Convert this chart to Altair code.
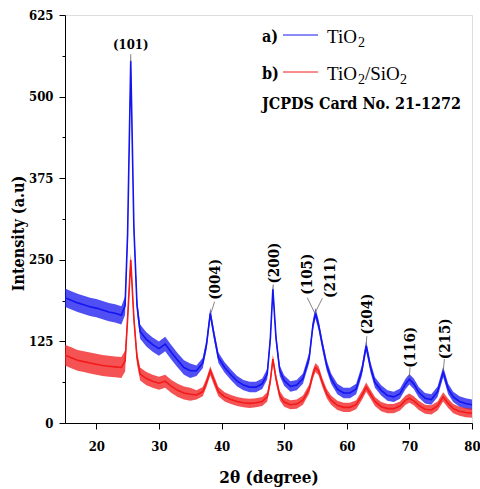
import altair as alt
import pandas as pd

# ---- data ----
two_theta = [15, 16, 17, 18, 19, 20, 21, 22, 23, 24, 24.6, 25.0, 25.5, 26.0, 26.5, 27, 28, 29, 30, 31,
             32, 33, 34, 35, 36, 37, 37.6, 38.2, 38.8, 39.5, 40.5, 41.5, 42.5, 43.5, 44.5, 45.5, 46.5,
             47.3, 47.8, 48.2, 48.7, 49.3, 50, 51, 52, 53, 54, 54.6, 55.0, 55.5, 56.1, 56.8, 57.5, 58.5,
             59.5, 60.5, 61.5, 62.4, 63.1, 63.8, 64.5, 65.5, 66.5, 67.5, 68.5, 69.4, 70.0, 70.7, 71.5,
             72.5, 73.5, 74.5, 75.4, 76.2, 77, 78, 79, 80]
tio2 = [192, 188, 184, 181, 178, 176, 173, 170, 168, 165, 180, 290, 555, 300, 180, 140, 128, 120, 114, 121,
        108, 96, 85, 80, 80, 92, 120, 168, 135, 100, 85, 74, 64, 58, 55, 55, 60,
        75, 130, 205, 130, 80, 65, 56, 58, 68, 100, 150, 168, 150, 120, 88, 68, 52,
        46, 46, 52, 80, 118, 85, 62, 50, 42, 40, 45, 60, 67, 60, 47,
        38, 36, 48, 78, 52, 40, 33, 30, 28]
tio2_sio2 = [104, 100, 96, 94, 92, 90, 88, 87, 86, 85, 95, 160, 250, 160, 100, 75, 68, 64, 61, 64,
             56, 50, 46, 44, 43, 48, 62, 80, 65, 48, 40, 36, 33, 31, 30, 31, 33,
             40, 65, 98, 68, 42, 32, 28, 29, 35, 52, 75, 85, 80, 62, 45, 35, 27,
             24, 24, 28, 42, 55, 44, 33, 25, 22, 22, 26, 35, 38, 34, 27,
             21, 20, 26, 40, 30, 22, 18, 16, 15]
# noise band half-widths (start, end, half width)
noise_tio2 = [(15, 25, 14), (25, 36, 11), (36, 81, 8)]
noise_tio2_sio2 = [(15, 25, 16), (25, 36, 10), (36, 81, 7)]

peak_labels = ["(004)", "(200)", "(105)", "(211)", "(204)", "(116)", "(215)"]
peak_label_x = [38.9, 48.3, 53.7, 57.3, 63.2, 70.1, 75.7]
peak_label_y = [220, 245, 228, 223, 167, 116, 129]
lead_x = [38.9, 48.3, 53.7, 56.1, 63.2, 70.1, 75.6, 25.5]
lead_y = [186, 212, 192, 191, 133, 85, 98, 565]
lead_x2 = [38.3, 48.2, 54.9, 54.9, 63.1, 70.0, 75.4, 25.5]
lead_y2 = [168, 205, 168, 168, 120, 70, 80, 553]

BLUE = "#1414f0"
RED = "#f21a1a"
FONT = "Liberation Serif"
BFONT = "DejaVu Serif Condensed, DejaVu Serif"


def frame(ys, table):
    rows = []
    for x, y in zip(two_theta, ys):
        hw = next(w for a, b, w in table if a <= x < b)
        rows.append({"x": x, "y": y, "lo": y - hw, "hi": y + hw})
    return pd.DataFrame(rows)


df_b = frame(tio2, noise_tio2)
df_r = frame(tio2_sio2, noise_tio2_sio2)

xs = alt.Scale(domain=[15, 80], nice=False, zero=False)
ys = alt.Scale(domain=[0, 625], nice=False)

x_axis = alt.Axis(
    values=[20, 25, 30, 35, 40, 45, 50, 55, 60, 65, 70, 75, 80],
    labelExpr="datum.value % 10 == 0 ? datum.label : ''",
    tickSize={"condition": {"test": "datum.value % 10 != 0", "value": 3}, "value": 6},
    title="2θ (degree)", grid=False, labelFont=BFONT, labelFontWeight="bold", labelFontSize=13,
    labelColor="black", labelPadding=11, titleFont=BFONT, titleFontWeight="bold", titleFontSize=17,
    titleColor="black", titlePadding=16, domainColor="black", tickColor="black", labelFlush=False,
)
y_axis = alt.Axis(
    values=[0, 62.5, 125, 187.5, 250, 312.5, 375, 437.5, 500, 562.5, 625],
    labelExpr="datum.value % 125 == 0 ? datum.label : ''",
    tickSize={"condition": {"test": "datum.value % 125 != 0", "value": 3}, "value": 6},
    title="Intensity (a.u)", grid=False, labelFont=BFONT, labelFontWeight="bold", labelFontSize=13,
    labelColor="black", labelPadding=6, titleFont=BFONT, titleFontWeight="bold", titleFontSize=16,
    titleColor="black", titleX=-47, titleY=218, titleBaseline="middle", domainColor="black",
    tickColor="black", labelFlush=False,
)


def band(df, color):
    return alt.Chart(df).mark_area(color=color, opacity=0.75, clip=True).encode(
        x=alt.X("x:Q", scale=xs, axis=x_axis), y=alt.Y("lo:Q", scale=ys, axis=y_axis), y2="hi:Q")


def line(df, color):
    return alt.Chart(df).mark_line(color=color, strokeWidth=1.6, clip=True).encode(
        x=alt.X("x:Q", scale=xs), y=alt.Y("y:Q", scale=ys))


labels_df = pd.DataFrame({"t": peak_labels, "x": peak_label_x, "y": peak_label_y})
labels = alt.Chart(labels_df).mark_text(angle=270, font=BFONT, fontWeight="bold", fontSize=15,
                                        align="center", baseline="middle", color="black").encode(
    x=alt.X("x:Q", scale=xs), y=alt.Y("y:Q", scale=ys), text="t:N")
lab101 = alt.Chart(pd.DataFrame({"t": ["(101)"], "x": [25.5], "y": [579]})).mark_text(
    font=BFONT, fontWeight="bold", fontSize=13, align="center", baseline="middle", color="black").encode(
    x=alt.X("x:Q", scale=xs), y=alt.Y("y:Q", scale=ys), text="t:N")

leads_df = pd.DataFrame({"x": lead_x, "y": lead_y, "x2": lead_x2, "y2": lead_y2})
leads = alt.Chart(leads_df).mark_rule(color="#666666", strokeWidth=0.8).encode(
    x=alt.X("x:Q", scale=xs), y=alt.Y("y:Q", scale=ys), x2="x2:Q", y2="y2:Q")


def txt(s, px, py, size, bold=False, font=FONT):
    return alt.Chart(pd.DataFrame({"a": [0]})).mark_text(
        text=s, font=font, fontSize=size, fontWeight="bold" if bold else "normal",
        align="left", baseline="middle", color="black").encode(x=alt.value(px), y=alt.value(py))


def seg(px1, px2, py, color):
    return alt.Chart(pd.DataFrame({"a": [0]})).mark_rule(color=color, strokeWidth=1).encode(
        x=alt.value(px1), x2=alt.value(px2), y=alt.value(py))


legend = [
    txt("a)", 197, 22, 16, True, BFONT), seg(218, 253, 20, BLUE), txt("TiO", 262, 22, 19), txt("2", 293, 28, 14),
    txt("b)", 197, 59, 16, True, BFONT), seg(218, 253, 57, RED), txt("TiO", 262, 59, 19), txt("2", 293, 65, 14),
    txt("/SiO", 300, 59, 19), txt("2", 335, 65, 14),
    txt("JCPDS Card No. 21-1272", 197, 89, 16, True, BFONT),
]

chart = alt.layer(
    band(df_b, BLUE), line(df_b, BLUE), band(df_r, RED), line(df_r, RED),
    leads, labels, lab101, *legend
).properties(
    width=407, height=408,
    autosize=alt.AutoSizeParams(type="none"),
    padding={"left": 65, "top": 15, "right": 8, "bottom": 66},
).configure_view(stroke="black", strokeWidth=1.2).configure(background="white")

chart.save("out.html", embed_options={"renderer": "svg", "actions": False})
